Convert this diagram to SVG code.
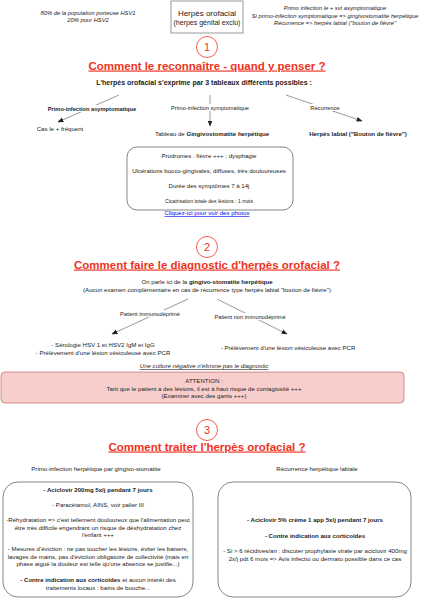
<svg xmlns="http://www.w3.org/2000/svg" width="423" height="600" viewBox="0 0 423 600">
<defs>
<marker id="arr" viewBox="0 0 10 10" refX="9" refY="5" markerWidth="6" markerHeight="6" markerUnits="userSpaceOnUse" orient="auto">
<path d="M0,1 L10,5 L0,9 Z" fill="#222"/>
</marker>
<style>
text{font-family:"Liberation Sans",Arial,sans-serif;fill:#222;text-anchor:middle}
.s{font-size:6.1px}
.xs{font-size:5.1px}
.it{font-size:5.8px;font-style:italic}
.b{font-weight:bold}
.ttl{font-size:11.5px;font-weight:bold;fill:#ee3322;text-decoration:underline}
.num{font-size:11px;fill:#ee3322}
.circ{fill:#fff;stroke:#ee3322;stroke-width:0.8}
.box{fill:#fff;stroke:#333;stroke-width:0.6}
.edge{stroke:#333;stroke-width:0.5;fill:none}
.lbl{fill:#fff}
.el{font-size:5.7px}
</style>
</defs>
<rect width="423" height="600" fill="#fff"/>

<g id="note-left">
<text class="it" x="88" y="15">80% de la population porteuse HSV1</text>
<text class="it" x="88" y="22">20% pour HSV2</text>
</g>
<g id="node-title">
<rect x="171" y="1" width="72" height="32" fill="#fff" stroke="#555" stroke-width="0.6"/>
<text x="207" y="15.5" style="font-size:8px">Herpès orofacial</text>
<text x="207" y="24.5" style="font-size:7px">(herpes génital exclu)</text>
</g>
<g id="note-right">
<text class="it" x="335" y="10">Primo infection le + svt asymptomatique</text>
<text class="it" x="335" y="17.5">Si primo-infection symptomatique =&gt; gingivostomatite herpétique</text>
<text class="it" x="335" y="25">Récurrence =&gt; herpès labial ("bouton de fièvre"</text>
</g>

<g id="sec1">
<circle class="circ" cx="207" cy="47" r="10.5"/>
<text class="num" x="207" y="51">1</text>
<text class="ttl" x="207" y="69.5">Comment le reconnaître - quand y penser ?</text>
<text class="b" x="204" y="84.5" style="font-size:7px">L'herpès orofacial s'exprime par 3 tableaux différents possibles :</text>
</g>

<g id="connectors">
<line class="edge" x1="119" y1="95" x2="58" y2="122" marker-end="url(#arr)"/>
<line class="edge" x1="210" y1="95" x2="210" y2="126" marker-end="url(#arr)"/>
<line class="edge" x1="286" y1="95" x2="362" y2="121" marker-end="url(#arr)"/>
<line class="edge" x1="188" y1="299" x2="112" y2="334" marker-end="url(#arr)"/>
<line class="edge" x1="217" y1="299" x2="287" y2="334" marker-end="url(#arr)"/>
</g>

<g id="edge-labels">
<rect class="lbl" x="46" y="105" width="94" height="7"/>
<text class="b el" x="92" y="111">Primo-infection asymptomatique</text>
<rect class="lbl" x="168" y="104" width="84" height="7"/>
<text class="el" x="210" y="109.5">Primo-infection symptomatique</text>
<rect class="lbl" x="308" y="104" width="34" height="7"/>
<text class="el" x="325" y="110">Récurrence</text>
<rect class="lbl" x="118" y="310" width="66" height="7"/>
<text class="el" x="150" y="316">Patient immunodéprimé</text>
<rect class="lbl" x="212" y="313" width="76" height="7"/>
<text class="el" x="250" y="319">Patient non immunodéprimé</text>
</g>

<g id="node-asympto">
<text class="s" x="60" y="131">Cas le + fréquent</text>
</g>
<g id="node-gingivo">
<text class="s" x="212" y="136">Tableau de <tspan class="b">Gingivostomatite herpétique</tspan></text>
</g>
<g id="node-labial">
<text class="s b" x="358" y="136">Herpès labial ("Bouton de fièvre")</text>
</g>

<g id="node-symptoms">
<rect class="box" x="127" y="147" width="166" height="63" rx="10"/>
<text class="s" x="209" y="158">Prodromes : fièvre +++ ; dysphagie</text>
<text class="s" x="209" y="173">Ulcérations bucco-gingivales, diffuses, très douloureuses</text>
<text class="s" x="209" y="188">Durée des symptômes 7 à 14j</text>
<text class="xs" x="209" y="203">Cicatrisation totale des lésions : 1 mois</text>
</g>
<g id="link">
<text class="s" x="207" y="215" style="fill:#0000ee;text-decoration:underline">Cliquez-ici pour voir des photos</text>
</g>

<g id="sec2">
<circle class="circ" cx="207" cy="247" r="10.5"/>
<text class="num" x="207" y="251">2</text>
<text class="ttl" x="207" y="268.5">Comment faire le diagnostic d'herpès orofacial ?</text>
<text class="s" x="207" y="284">On parle ici de la <tspan class="b">gingivo-stomatite herpétique</tspan></text>
<text class="s" x="207" y="292">(Aucun examen complémentaire en cas de récurrence type herpès labial "bouton de fièvre")</text>
</g>
<g id="node-immuno">
<text class="s" x="103" y="347">- Sérologie HSV 1 et HSV2 IgM et IgG</text>
<text class="s" x="103" y="355">- Prélèvement d'une lésion vésiculeuse avec PCR</text>
</g>
<g id="node-nonimmuno">
<text class="s" x="288" y="350">- Prélèvement d'une lésion vésiculeuse avec PCR</text>
</g>
<g id="note-culture">
<text class="s" x="204" y="368" style="font-style:italic;text-decoration:underline">Une culture négative n'élimine pas le diagnostic</text>
</g>
<g id="node-attention">
<rect x="1" y="372" width="403" height="31" rx="4" fill="#f8cecc" stroke="#b85450" stroke-width="0.6"/>
<text class="s" x="204" y="383">ATTENTION :</text>
<text class="s" x="204" y="390.5">Tant que le patient a des lésions, il est à haut risque de contagiosité +++</text>
<text class="s" x="204" y="398">(Examiner avec des gants +++)</text>
</g>

<g id="sec3">
<circle class="circ" cx="207" cy="430" r="10.5"/>
<text class="num" x="207" y="434">3</text>
<text class="ttl" x="207" y="450.5">Comment traiter l'herpès orofacial ?</text>
<text class="s" x="96" y="471">Primo-infection herpétique par gingivo-stomatite</text>
<text class="s" x="317" y="471">Récurrence herpétique labiale</text>
</g>
<g id="node-primo-treat">
<rect class="box" x="3" y="482" width="190" height="115" rx="15"/>
<text class="s b" x="98" y="492">- Aciclovir 200mg 5x/j pendant 7 jours</text>
<text class="s" x="98" y="507">- Paracétamol, AINS, voir palier III</text>
<text class="s" x="98" y="522">-Réhydratation =&gt; c'est tellement douloureux que l'alimentation peut</text>
<text class="s" x="98" y="529.5">être très difficile engendrant un risque de déshydratation chez</text>
<text class="s" x="98" y="537">l'enfant +++</text>
<text class="s" x="98" y="551">- Mesures d'éviction : ne pas toucher les lésions, éviter les baisers,</text>
<text class="s" x="98" y="558.5">lavages de mains, pas d'éviction obligatoire de collectivité (mais en</text>
<text class="s" x="98" y="566">phase aiguë la douleur est telle qu'une absence se justifie...)</text>
<text class="s" x="98" y="582"><tspan class="b">- Contre indication aux corticoïdes</tspan> et aucun intérêt des</text>
<text class="s" x="98" y="590">traitements locaux : bains de bouche...</text>
</g>
<g id="node-recur-treat">
<rect class="box" x="218" y="482" width="193" height="115" rx="15"/>
<text class="s b" x="315" y="522">- Aciclovir 5% crème 1 app 5x/j pendant 7 jours</text>
<text class="s b" x="315" y="538">- Contre indication aux corticoïdes</text>
<text class="s" x="315" y="553">- Si &gt; 6 récidives/an : discuter prophylaxie virale par aciclovir 400mg</text>
<text class="s" x="315" y="561">2x/j pdt 6 mois =&gt; Avis infectio ou dermato possible dans ce cas</text>
</g>
</svg>
